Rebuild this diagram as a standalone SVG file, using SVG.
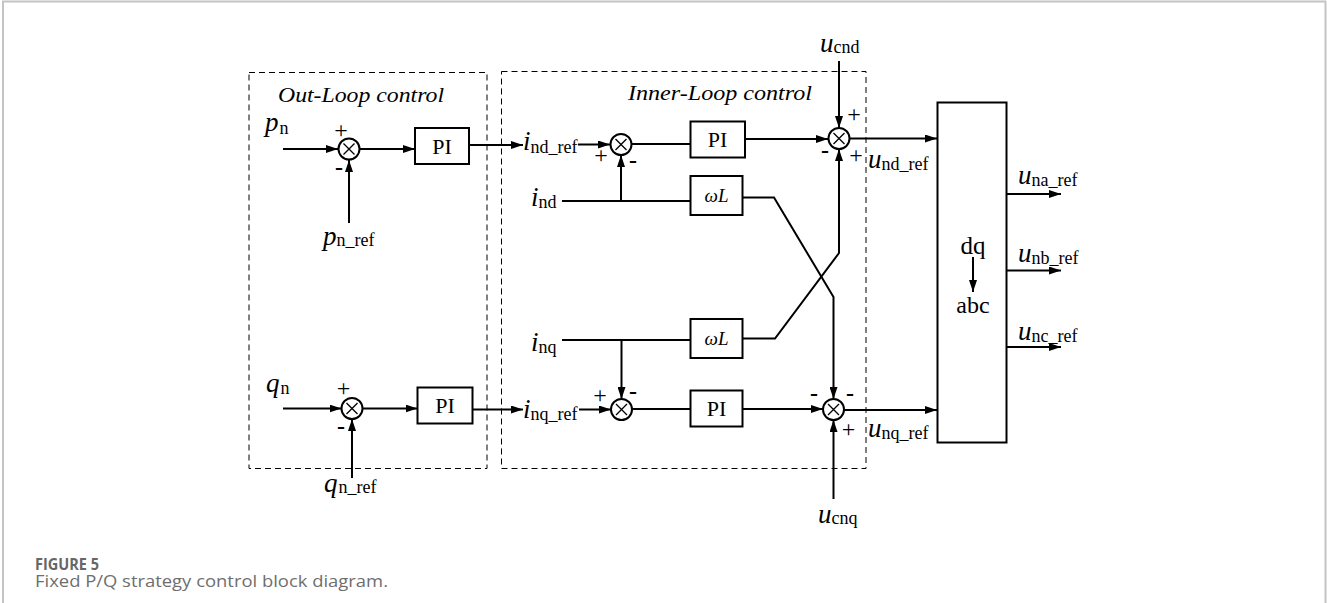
<svg xmlns="http://www.w3.org/2000/svg" width="1327" height="603" viewBox="0 0 1327 603">
<style>
.frame{fill:none;stroke:#c4c4c4;stroke-width:2}
.dash{fill:none;stroke:#000;stroke-width:1;stroke-dasharray:6 4}
.blk{fill:#fff;stroke:#000;stroke-width:2}
.ln{fill:none;stroke:#000;stroke-width:2}
.arr{fill:none;stroke:#000;stroke-width:2;marker-end:url(#ah)}
.x{fill:none;stroke:#000;stroke-width:1.3}
.t{font-family:"Liberation Serif","Times New Roman",serif;fill:#000}
.ti{font-family:"Liberation Serif","Times New Roman",serif;font-style:italic;font-size:22px;fill:#000}
.m{font-style:italic;font-size:27px}
.s{font-size:18px}
.pl{font-family:"Liberation Serif","Times New Roman",serif;font-size:24px;text-anchor:middle;fill:#000}
.mi{font-family:"Liberation Serif","Times New Roman",serif;font-size:24px;font-weight:bold;text-anchor:middle;fill:#000}
.pi{font-family:"Liberation Serif","Times New Roman",serif;font-size:22px;text-anchor:middle;fill:#000}
.cap1{font-family:"Open Sans","Noto Sans",sans-serif;font-weight:700;font-size:16px;fill:#666}
.cap2{font-family:"Open Sans","Noto Sans",sans-serif;font-size:17px;fill:#6e6e6e}
</style>
<defs>
<marker id="ah" markerUnits="userSpaceOnUse" markerWidth="12" markerHeight="8" refX="12" refY="4" orient="auto">
<path d="M0,0 L12,4 L0,8 z" fill="#000"/>
</marker>
<g id="sum"><circle r="10.5" fill="#fff" stroke="#000" stroke-width="2"/><path class="x" d="M-5.5,-5.5 L5.5,5.5 M-5.5,5.5 L5.5,-5.5"/></g>
</defs>
<rect width="1327" height="603" fill="#fff"/>
<path class="frame" d="M3,603 V1.5 H1325.5 V603"/>

<g id="outer-loop-box"><rect class="dash" x="249" y="72.5" width="238" height="396"/>
<text class="ti" x="278" y="102" textLength="166" lengthAdjust="spacingAndGlyphs">Out-Loop control</text></g>
<g id="inner-loop-box"><rect class="dash" x="501.5" y="71.5" width="364.5" height="397"/>
<text class="ti" x="628" y="100" textLength="184" lengthAdjust="spacingAndGlyphs">Inner-Loop control</text></g>

<g id="connectors">
<path class="arr" d="M283,149 H338"/>
<path class="arr" d="M349,223 V160"/>
<path class="arr" d="M359.5,149 H415"/>
<path class="arr" d="M469,145 H523"/>
<path class="arr" d="M578,144.5 H610"/>
<path class="ln" d="M631.5,144 H690.5"/>
<path class="arr" d="M745,139 H828"/>
<path class="arr" d="M839,61 V128"/>
<path class="arr" d="M849.5,138.5 H937"/>
<path class="ln" d="M562,201 H690.5"/>
<path class="arr" d="M621,201 V155"/>
<path class="arr" d="M742.5,197.5 H774 L833.5,297 V399"/>
<path class="arr" d="M742.5,338.5 H775 L839,253 V149"/>
<path class="ln" d="M562,340 H690.5"/>
<path class="arr" d="M621.5,340 V399"/>
<path class="arr" d="M472.5,409.5 H523"/>
<path class="arr" d="M579,409.5 H611"/>
<path class="ln" d="M632,409 H690.5"/>
<path class="arr" d="M742.5,409 H823"/>
<path class="arr" d="M833.5,499 V420"/>
<path class="arr" d="M844,410 H937"/>
<path class="arr" d="M283,408.5 H341.5"/>
<path class="arr" d="M352,478 V419"/>
<path class="arr" d="M362.5,408.5 H417.5"/>
<path class="arr" d="M1007,194 H1061"/>
<path class="arr" d="M1007,270.5 H1061"/>
<path class="arr" d="M1007,347 H1061"/>
</g>

<g id="sum1"><use href="#sum" x="349" y="149"/><text class="pl" x="341" y="138">+</text><text class="mi" x="339" y="175">-</text></g>
<g id="sum2"><use href="#sum" x="621" y="144.5"/><text class="pl" x="601" y="163">+</text><text class="mi" x="633" y="167.5">-</text></g>
<g id="sum3"><use href="#sum" x="839" y="138.5"/><text class="pl" x="854" y="122">+</text><text class="mi" x="825" y="157.5">-</text><text class="pl" x="856" y="162.5">+</text></g>
<g id="sum4"><use href="#sum" x="833.5" y="409.5"/><text class="mi" x="814" y="400.5">-</text><text class="mi" x="850" y="400.5">-</text><text class="pl" x="848.5" y="436.5">+</text></g>
<g id="sum5"><use href="#sum" x="621.5" y="409.5"/><text class="pl" x="600" y="403">+</text><text class="mi" x="633" y="399">-</text></g>
<g id="sum6"><use href="#sum" x="352" y="408.5"/><text class="pl" x="343.5" y="396">+</text><text class="mi" x="341" y="434">-</text></g>

<g id="pi1"><rect class="blk" x="415" y="128" width="54" height="36"/><text class="pi" x="442" y="153.5">PI</text></g>
<g id="pi2"><rect class="blk" x="690.5" y="121.5" width="54.5" height="36"/><text class="pi" x="717.5" y="147">PI</text></g>
<g id="wl1"><rect class="blk" x="690.5" y="176" width="52" height="39"/><text class="t" x="716.5" y="202" font-size="19" font-style="italic" text-anchor="middle">ωL</text></g>
<g id="wl2"><rect class="blk" x="690.5" y="319" width="52" height="39"/><text class="t" x="716.5" y="345" font-size="19" font-style="italic" text-anchor="middle">ωL</text></g>
<g id="pi3"><rect class="blk" x="690.5" y="390.5" width="52" height="36"/><text class="pi" x="716.5" y="416">PI</text></g>
<g id="pi4"><rect class="blk" x="417.5" y="387.5" width="55" height="36"/><text class="pi" x="445" y="413">PI</text></g>
<g id="dq-abc"><rect class="blk" x="937.5" y="102.5" width="69" height="340"/>
<text class="t" x="973" y="254" font-size="25" text-anchor="middle">dq</text>
<path class="arr" d="M973,257 V292"/>
<text class="t" x="973" y="313" font-size="24" text-anchor="middle">abc</text></g>

<g id="labels">
<text class="t" x="265" y="131"><tspan class="m">p</tspan><tspan class="s" dx="1" dy="3">n</tspan></text>
<text class="t" x="323" y="245"><tspan class="m">p</tspan><tspan class="s" dx="0" dy="1">n_ref</tspan></text>
<text class="t" x="266" y="392"><tspan class="m">q</tspan><tspan class="s" dx="1" dy="2">n</tspan></text>
<text class="t" x="324" y="492"><tspan class="m">q</tspan><tspan class="s" dx="1" dy="1">n_ref</tspan></text>
<text class="t" x="523" y="150"><tspan class="m">i</tspan><tspan class="s" dy="3">nd_ref</tspan></text>
<text class="t" x="531" y="206"><tspan class="m">i</tspan><tspan class="s" dy="2">nd</tspan></text>
<text class="t" x="531" y="351"><tspan class="m">i</tspan><tspan class="s" dy="2">nq</tspan></text>
<text class="t" x="523" y="418"><tspan class="m">i</tspan><tspan class="s" dy="2">nq_ref</tspan></text>
<text class="t" x="820" y="52"><tspan class="m">u</tspan><tspan class="s" dy="1">cnd</tspan></text>
<text class="t" x="818" y="523"><tspan class="m">u</tspan><tspan class="s" dy="1">cnq</tspan></text>
<text class="t" x="868" y="168"><tspan class="m">u</tspan><tspan class="s" dy="2">nd_ref</tspan></text>
<text class="t" x="868" y="437"><tspan class="m">u</tspan><tspan class="s" dy="2">nq_ref</tspan></text>
<text class="t" x="1018" y="184"><tspan class="m">u</tspan><tspan class="s" dy="2">na_ref</tspan></text>
<text class="t" x="1018" y="262"><tspan class="m">u</tspan><tspan class="s" dy="2">nb_ref</tspan></text>
<text class="t" x="1018" y="340"><tspan class="m">u</tspan><tspan class="s" dy="2">nc_ref</tspan></text>
</g>

<g id="caption">
<text class="cap1" x="35" y="570" textLength="64" lengthAdjust="spacingAndGlyphs">FIGURE 5</text>
<text class="cap2" x="35" y="587" textLength="353" lengthAdjust="spacingAndGlyphs">Fixed P/Q strategy control block diagram.</text>
</g>
</svg>
